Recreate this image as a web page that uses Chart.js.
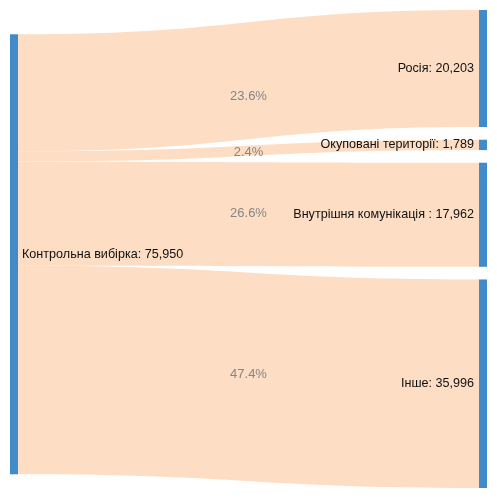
<!DOCTYPE html>
<html lang="uk">
<head>
  <meta charset="UTF-8">
  <title>Sankey</title>
  <script src="https://cdn.jsdelivr.net/npm/chart.js"></script>
  <style>
    html, body { margin: 0; padding: 0; background: #fff; }
    #wrap { width: 497px; height: 498px; }
  </style>
</head>
<body>
  <div id="wrap"><canvas id="sankey" width="497" height="498"></canvas></div>

  <script>
    // data
    const sourceName = 'Контрольна вибірка';
    const targets = ['Росія', 'Окуповані території', 'Внутрішня комунікація ', 'Інше'];
    const values = [20203, 1789, 17962, 35996];
    const shares = ['23.6%', '2.4%', '26.6%', '47.4%'];

    const total = values.reduce((a, b) => a + b, 0);
    const gap = 2186;                       // space between right-hand nodes, in value units
    const yMax = total + gap * (targets.length - 1);

    // right nodes stacked top to bottom
    const targetTop = [];
    let acc = 0;
    values.forEach(v => { targetTop.push(acc); acc += v + gap; });

    // left node sits at the weighted mean of where its links land
    let cum = 0, wsum = 0;
    values.forEach((v, i) => { wsum += v * (targetTop[i] - cum); cum += v; });
    const sourceTop = wsum / total;

    const fmt = n => n.toLocaleString('en-US');

    const sankeyPlugin = {
      id: 'sankey',
      afterDatasetsDraw(chart) {
        const ctx = chart.ctx;
        const xs = chart.scales.x, ys = chart.scales.y;
        const nodeW = 8;
        const x0 = xs.getPixelForValue(0), x1 = xs.getPixelForValue(1);
        const linkX0 = x0 + nodeW, linkX1 = x1 - nodeW;
        const cx = (linkX0 + linkX1) / 2;
        const nudge = [4, -4, 0, 4];

        ctx.save();
        // links
        let s = sourceTop;
        values.forEach((v, i) => {
          const sy0 = ys.getPixelForValue(s), sy1 = ys.getPixelForValue(s + v);
          const ty0 = ys.getPixelForValue(targetTop[i]), ty1 = ys.getPixelForValue(targetTop[i] + v);
          ctx.beginPath();
          ctx.moveTo(linkX0, sy0);
          ctx.bezierCurveTo(cx, sy0, cx, ty0, linkX1, ty0);
          ctx.lineTo(linkX1, ty1);
          ctx.bezierCurveTo(cx, ty1, cx, sy1, linkX0, sy1);
          ctx.closePath();
          ctx.fillStyle = 'rgb(253,222,196)';
          ctx.fill();
          s += v;
        });

        // nodes
        ctx.fillStyle = '#428bca';
        ctx.fillRect(x0, ys.getPixelForValue(sourceTop), nodeW,
          ys.getPixelForValue(sourceTop + total) - ys.getPixelForValue(sourceTop));
        values.forEach((v, i) => {
          const a = ys.getPixelForValue(targetTop[i]), b = ys.getPixelForValue(targetTop[i] + v);
          ctx.fillRect(x1 - nodeW, a, nodeW, b - a);
        });

        // share labels
        ctx.font = '13px "Liberation Sans", Arial, Helvetica, sans-serif';
        ctx.textAlign = 'center';
        ctx.textBaseline = 'middle';
        ctx.fillStyle = '#858585';
        s = sourceTop;
        values.forEach((v, i) => {
          const y = ys.getPixelForValue(s + v / 2) + nudge[i];
          ctx.fillText(shares[i], cx, y);
          s += v;
        });

        // node labels
        ctx.font = '12.6px "Liberation Sans", Arial, Helvetica, sans-serif';
        ctx.fillStyle = '#111';
        ctx.textAlign = 'right';
        values.forEach((v, i) => {
          const y = ys.getPixelForValue(targetTop[i] + v / 2);
          ctx.fillText(targets[i] + ': ' + fmt(v), x1 - nodeW - 5, y);
        });
        ctx.textAlign = 'left';
        ctx.fillText(sourceName + ': ' + fmt(total), x0 + nodeW + 4,
          ys.getPixelForValue(sourceTop + total / 2));
        ctx.restore();
      }
    };

    const chart = new Chart(document.getElementById('sankey'), {
      type: 'scatter',
      data: { datasets: [{ data: [] }] },
      options: {
        responsive: false,
        animation: false,
        devicePixelRatio: 1,
        layout: { padding: { top: 10, bottom: 10, left: 10, right: 10 } },
        plugins: { legend: { display: false }, tooltip: { enabled: false } },
        scales: {
          x: { type: 'linear', min: 0, max: 1, display: false },
          y: { type: 'linear', min: 0, max: yMax, reverse: true, display: false }
        }
      },
      plugins: [sankeyPlugin]
    });
  </script>
</body>
</html>
